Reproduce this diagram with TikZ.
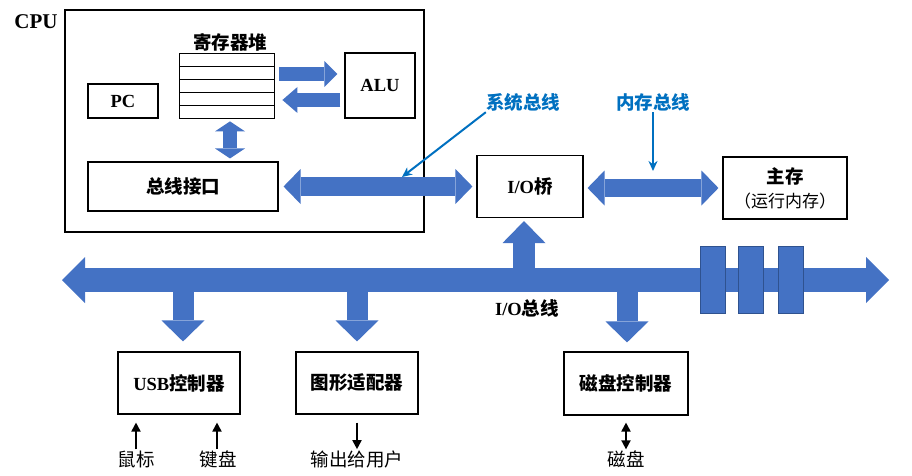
\documentclass[tikz,border=0pt]{standalone}
\usepackage{fontspec}
\setmainfont{Liberation Serif}
\newfontfamily\cjk{Noto Sans CJK SC}
\usetikzlibrary{arrows.meta,calc}
\definecolor{busblue}{RGB}{68,114,196}
\definecolor{busedge}{RGB}{47,82,143}
\definecolor{tagblue}{RGB}{0,112,192}
\newcommand\bigtxt{\fontsize{18.5}{22}\selectfont}
\tikzset{
  unit/.style={draw, line width=1.1pt, inner sep=0pt, font=\bigtxt\bfseries},
  title/.style={inner sep=1pt, font=\bigtxt\bfseries},
  dev/.style={inner sep=1pt, font=\bigtxt\cjk},
  tag/.style={inner sep=1pt, text=tagblue, font=\bigtxt\bfseries\cjk},
  fat/.style args={#1/#2/#3}{draw=busblue, line width=#1,
    -{Triangle[length=#3, width=#2, line width=0pt]}},
  fatboth/.style args={#1/#2/#3}{draw=busblue, line width=#1,
    {Triangle[length=#3, width=#2, line width=0pt]}-{Triangle[length=#3, width=#2, line width=0pt]}},
  pointer/.style={draw=tagblue, line width=2pt, -{Stealth[length=10pt, width=9pt]}},
  small/.style={line width=1.8pt, -{Triangle[length=9pt, width=9pt]}},
}
\begin{document}
\begin{tikzpicture}[x=1pt, y=-1pt]
    \useasboundingbox (0,0) rectangle (912,476);
    % CPU
    \node[unit, minimum width=359pt, minimum height=222pt] (cpu) at (244.5,121) {};
    \node[font=\fontsize{21}{24}\selectfont\bfseries] (cpuname) at (36,22) {CPU};
    \node[unit, line width=0.8pt, minimum width=95pt, minimum height=65pt] (regs) at (226.5,85.5) {};
    \foreach \i in {1,...,4}
    {
        \draw[line width=0.8pt] (179,{53+13*\i}) -- (274,{53+13*\i});
    }
    \node[title] (regname) at (230,42) {\cjk 寄存器堆};
    \node[unit, minimum width=70pt, minimum height=34pt] (pc) at (123,101) {PC};
    \node[unit, minimum width=70pt, minimum height=65pt] (alu) at (380,85.5) {ALU};
    \node[unit, minimum width=190pt, minimum height=49pt] (bif) at (183,186.5) {\cjk 总线接口};
    % bridge, memory
    \node[unit, minimum width=106pt, minimum height=62pt] (bridge) at (530,186.5) {I/O\cjk 桥};
    \node[unit, minimum width=124pt, minimum height=62pt, align=center] (mem) at (785,188)
        {\cjk 主存\\[2pt]{\cjk\mdseries\fontsize{17}{20}\selectfont （运行内存）}};
    % controllers
    \node[unit, minimum width=122pt, minimum height=62pt] (usb) at (179,383) {USB\cjk 控制器};
    \node[unit, minimum width=122pt, minimum height=62pt] (gfx) at (357,383) {\cjk 图形适配器};
    \node[unit, minimum width=124pt, minimum height=63pt] (disk) at (626,383.5) {\cjk 磁盘控制器};
    % inner arrows
    \draw[fat=14pt/26pt/13pt] ([xshift=5pt, yshift=11.5pt]regs.east) -- ([xshift=-7pt, yshift=11.5pt]alu.west);
    \draw[fat=14pt/26pt/15pt] ([xshift=-4pt, yshift=-14.5pt]alu.west) -- ([xshift=8pt, yshift=-14.5pt]regs.east);
    \draw[fatboth=14pt/30pt/10pt] ([xshift=3.5pt, yshift=-3pt]regs.south) -- ([xshift=3.5pt, yshift=3pt]regs.south |- bif.north);
    % system bus, memory bus
    \draw[fatboth=19pt/35pt/17pt] ([xshift=5pt]bif.east) -- ([xshift=-4pt]bif.east -| bridge.west);
    \draw[fatboth=18pt/35pt/17pt] ([xshift=4pt]bridge.east |- mem.west) -- ([xshift=-4pt]mem.west);
    \node[tag] (systag) at (523,102) {系统总线};
    \node[tag] (memtag) at (653,102) {内存总线};
    \coordinate (sysend) at (402,177);
    \coordinate (memend) at (653,171);
    \draw[pointer] ([xshift=1pt]systag.south west) -- (sysend);
    \draw[pointer] (memtag.south) -- (memend);
    % I/O bus
    \coordinate (busL) at (62,280);
    \coordinate (busR) at (889,280);
    \draw[fat=22pt/43pt/22pt] ([xshift=-6pt]bridge.south |- busL) -- ([xshift=-6pt, yshift=-3pt]bridge.south);
    \draw[fatboth=24pt/46pt/23pt] (busL) -- (busR);
    \draw[fat=21pt/43pt/21pt] ([xshift=4pt]usb.north |- busL) -- ([xshift=4pt, yshift=10pt]usb.north);
    \draw[fat=21pt/43pt/21pt] (gfx.north |- busL) -- ([yshift=10pt]gfx.north);
    \draw[fat=21pt/43pt/21pt] ([xshift=1pt]disk.north |- busL) -- ([xshift=1pt, yshift=9pt]disk.north);
    \foreach \x in {700,738,778}
    {
        \draw[fill=busblue, draw=busedge, line width=0.6pt] (\x,246) rectangle ++(25,67);
    }
    \node[title] (busname) at (527,308) {I/O\cjk 总线};
    % devices
    \node[dev] (mouse) at (136,459) {鼠标};
    \node[dev] (kbd) at (218,459) {键盘};
    \node[dev] (out) at (357,459) {输出给用户};
    \node[dev] (dsk) at (626,459) {磁盘};
    \draw[small, shorten >=8pt] (mouse.north) -- (mouse |- usb.south);
    \draw[small, shorten >=8pt] ([xshift=-1pt]kbd.north) -- ([xshift=-1pt]kbd |- usb.south);
    \draw[small, shorten <=8pt] (out |- gfx.south) -- (out.north);
    \draw[small, {Triangle[length=9pt, width=9pt]}-{Triangle[length=9pt, width=9pt]}, shorten <=7pt] (dsk |- disk.south) -- (dsk.north);
\end{tikzpicture}
\end{document}
